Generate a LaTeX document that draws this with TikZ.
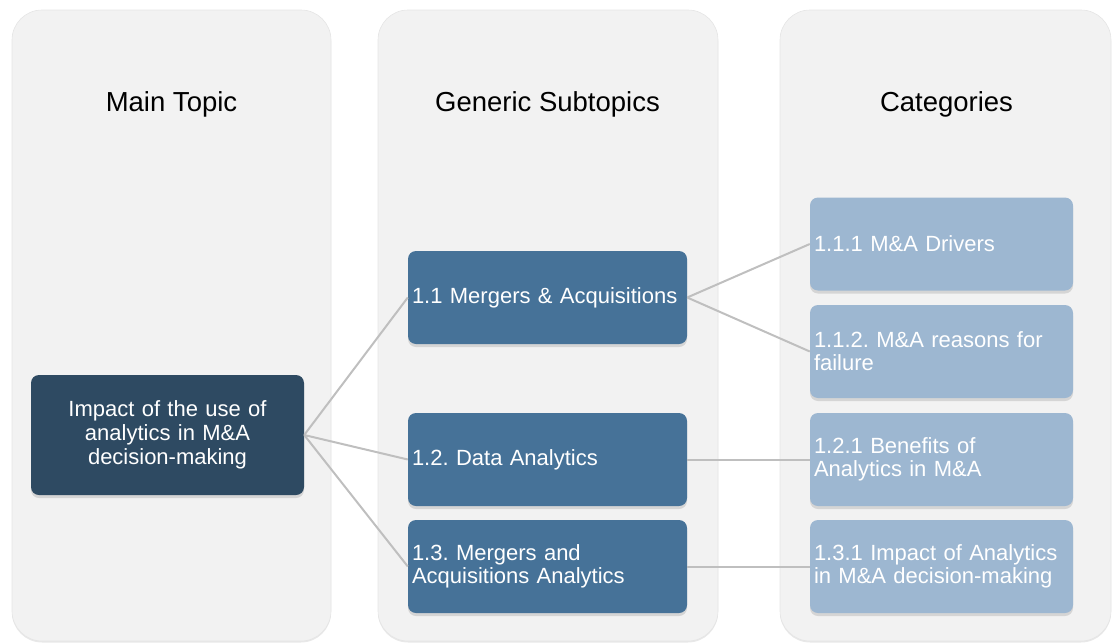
\documentclass[tikz,border=0pt]{standalone}
\usepackage{fontspec}
\setmainfont{Liberation Sans}
\usetikzlibrary{shadows}
\definecolor{colbg}{HTML}{F2F2F2}
\definecolor{topicblue}{HTML}{2E4A62}
\definecolor{subblue}{HTML}{467298}
\definecolor{catblue}{HTML}{9DB7D1}
\definecolor{linkgray}{HTML}{BFBFBF}
\frenchspacing
\hyphenpenalty=10000
\exhyphenpenalty=10000

\begin{document}
\begin{tikzpicture}[x=1pt,y=-1pt,
  column/.style={fill=colbg, draw=black!10, line width=0.6pt, rounded corners=30pt,
    drop shadow={shadow xshift=0pt, shadow yshift=-1.5pt, opacity=0.18}},
  heading/.style={font=\fontsize{27.5}{30}\selectfont, text=black},
  box/.style={rounded corners=8pt, inner sep=4pt, text=white,
    font=\fontsize{22}{23}\selectfont,
    drop shadow={shadow xshift=0pt, shadow yshift=-3pt, opacity=0.25}},
  topicbox/.style={box, fill=topicblue, align=center, text width=265pt,
    minimum height=120pt, font=\fontsize{22}{24}\selectfont},
  subbox/.style={box, fill=subblue, align=left, text width=271pt, minimum height=93pt},
  catbox/.style={box, fill=catblue, align=left, text width=255pt, minimum height=93pt},
  link/.style={draw=linkgray, line width=2pt}
]
\useasboundingbox (0,0) rectangle (1112,643);

% three column panels
\path[column] (12,10) rectangle (331,641);
\path[column] (378,10) rectangle (718,641);
\path[column] (780,10) rectangle (1111,641);

% column headings
\node[heading] (h1) at (171.5,104) {Main Topic};
\node[heading] (h2) at (547.5,104) {Generic Subtopics};
\node[heading] (h3) at (946.5,104) {Categories};

% main topic
\node[topicbox] (main) at (167.5,435) {Impact of the use of\\analytics in M\&A\\decision-making};

% subtopics
\node[subbox] (s1) at (547.5,297.5) {1.1 Mergers \& Acquisitions};
\node[subbox] (s2) at (547.5,459.5) {1.2. Data Analytics};
\node[subbox] (s3) at (547.5,566.5) {1.3. Mergers and\\Acquisitions Analytics};

% categories
\node[catbox] (c1) at (941.5,244) {1.1.1 M\&A Drivers};
\node[catbox] (c2) at (941.5,351.5) {1.1.2. M\&A reasons for\\failure};
\node[catbox] (c3) at (941.5,459.5) {1.2.1 Benefits of\\Analytics in M\&A};
\node[catbox] (c4) at (941.5,566.5) {1.3.1 Impact of Analytics\\in M\&A decision-making};

% connectors
\draw[link] (main.east) -- (s1.west);
\draw[link] (main.east) -- (s2.west);
\draw[link] (main.east) -- (s3.west);
\draw[link] (s1.east) -- (c1.west);
\draw[link] (s1.east) -- (c2.west);
\draw[link] (s2.east) -- (c3.west);
\draw[link] (s3.east) -- (c4.west);
\end{tikzpicture}
\end{document}
